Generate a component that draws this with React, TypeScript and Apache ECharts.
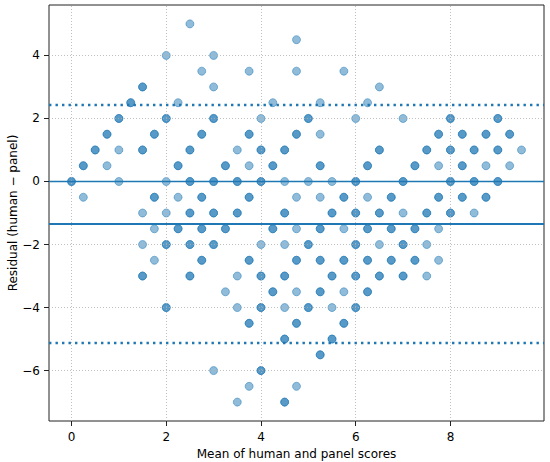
import React, { useEffect, useRef } from "react";
import * as echarts from "echarts";

// Residual levels (human − panel) and the mean scores of the points at each level.
// Values repeated where markers overlap (darker dots in the reference).
const residualLevels = [5, 4.5, 4, 3.5, 3, 2.5, 2, 1.5, 1, 0.5, 0, -0.5, -1, -1.5, -2, -2.5, -3, -3.5, -4, -4.5, -5, -5.5, -6, -6.5, -7];

const meansAtP5_0 = [2.5];
const meansAtP4_5 = [4.75];
const meansAtP4_0 = [2, 3];
const meansAtP3_5 = [2.75, 3.75, 4.75, 5.75];
const meansAtP3_0 = [1.5, 1.5, 3, 6.5];
const meansAtP2_5 = [1.25, 1.25, 2.25, 4.25, 5.25, 6.25];
const meansAtP2_0 = [1, 1, 2, 2, 3, 3, 4, 5, 5, 6, 7, 8, 8, 9, 9];
const meansAtP1_5 = [0.75, 0.75, 1.75, 1.75, 2.75, 2.75, 3.75, 3.75, 4.75, 4.75, 5.25, 7.75, 7.75, 8.25, 8.25, 8.75, 8.75, 9.25, 9.25];
const meansAtP1_0 = [0.5, 0.5, 1, 1.5, 1.5, 2.5, 2.5, 3.5, 4, 4, 4.5, 4.5, 6.5, 6.5, 7.5, 7.5, 8, 8, 8.5, 8.5, 9, 9, 9.5];
const meansAtP0_5 = [0.25, 0.25, 0.75, 2.25, 2.25, 3.25, 3.25, 3.75, 4.25, 4.25, 5.25, 5.25, 6.25, 6.25, 7.25, 7.25, 7.75, 8.25, 8.25, 8.75, 9.25];
const meansAtZero = [0, 0, 1, 2, 2.5, 2.5, 3, 3, 3.5, 3.5, 4, 4, 4.5, 5, 5.5, 6, 6, 7, 7, 8, 8, 8.5, 8.5, 9, 9];
const meansAtM0_5 = [0.25, 1.75, 1.75, 2.25, 2.75, 2.75, 3.75, 3.75, 4.75, 5.25, 5.75, 5.75, 6.25, 6.75, 6.75, 7.75, 7.75, 8.25, 8.25, 8.75, 8.75];
const meansAtM1_0 = [1.5, 2, 2.5, 2.5, 3, 3, 3.5, 3.5, 4.5, 4.5, 5.5, 5.5, 6, 6, 6.5, 6.5, 7, 7.5, 7.5, 8, 8, 8.5];
const meansAtM1_5 = [1.75, 2.25, 2.25, 2.75, 2.75, 3.25, 3.25, 4.25, 4.25, 4.75, 5.25, 5.25, 5.75, 6.25, 6.25, 6.75, 6.75, 7.25, 7.25, 7.75];
const meansAtM2_0 = [1.5, 2, 2, 2.5, 2.5, 3, 3, 4, 4.5, 5, 5, 6, 6, 6.5, 7, 7, 7.5];
const meansAtM2_5 = [1.75, 2.75, 2.75, 3.75, 3.75, 4.75, 4.75, 5.25, 5.25, 5.75, 5.75, 6.25, 6.25, 6.75, 6.75, 7.25, 7.25, 7.75];
const meansAtM3_0 = [1.5, 1.5, 2.5, 2.5, 3.5, 4, 4, 4.5, 4.5, 5.5, 5.5, 6, 6, 6.5, 6.5, 7, 7, 7.5];
const meansAtM3_5 = [3.25, 4.25, 4.25, 4.75, 5.25, 5.25, 5.75, 6.25, 6.25];
const meansAtM4_0 = [2, 2, 3.5, 4, 4, 4.5, 5, 5, 5.5, 6, 6];
const meansAtM4_5 = [3.75, 3.75, 4.75, 4.75, 5.75, 5.75];
const meansAtM5_0 = [4.5, 4.5, 5.5, 5.5];
const meansAtM5_5 = [5.25, 5.25];
const meansAtM6_0 = [3, 4, 4];
const meansAtM6_5 = [3.75, 4.75];
const meansAtM7_0 = [3.5, 4.5, 4.5];

const meansByLevel = [
  meansAtP5_0, meansAtP4_5, meansAtP4_0, meansAtP3_5, meansAtP3_0, meansAtP2_5, meansAtP2_0,
  meansAtP1_5, meansAtP1_0, meansAtP0_5, meansAtZero, meansAtM0_5, meansAtM1_0, meansAtM1_5,
  meansAtM2_0, meansAtM2_5, meansAtM3_0, meansAtM3_5, meansAtM4_0, meansAtM4_5, meansAtM5_0,
  meansAtM5_5, meansAtM6_0, meansAtM6_5, meansAtM7_0,
];

// Bias and limits of agreement
const biasMean = -1.34;
const upperLimit = 2.42;
const lowerLimit = -5.11;

const xTicks = [0, 2, 4, 6, 8];
const yTicks = [-6, -4, -2, 0, 2, 4];

const BLUE = "#1f77b4";
const FONT = "DejaVu Sans";

export default function App() {
  const ref = useRef<HTMLDivElement>(null);

  useEffect(() => {
    if (!ref.current) return;
    document.body.style.margin = "0";
    const chart = echarts.init(ref.current, null, { renderer: "svg" });

    const points: number[][] = [];
    residualLevels.forEach((r, i) => {
      meansByLevel[i].forEach((m) => points.push([m, r]));
    });

    const fmt = (v: number) => (v < 0 ? "\u2212" + Math.abs(v) : String(v));

    chart.setOption({
      animation: false,
      textStyle: { fontFamily: FONT },
      grid: {
        left: 49,
        right: 6,
        top: 5,
        bottom: 41,
        containLabel: false,
        outerBoundsMode: "none",
        show: true,
        borderColor: "#222",
        borderWidth: 1,
        backgroundColor: "transparent",
      },
      xAxis: {
        type: "value",
        min: -0.475,
        max: 9.975,
        name: "Mean of human and panel scores",
        nameLocation: "middle",
        nameGap: 27,
        nameMoveOverlap: false,
        nameTextStyle: { fontSize: 12, color: "#000", fontFamily: FONT },
        axisLine: { show: false, onZero: false },
        axisTick: { show: true, length: 5, customValues: xTicks, lineStyle: { color: "#222", width: 1 } },
        axisLabel: { customValues: xTicks, fontSize: 12, color: "#000", margin: 10, fontFamily: FONT, formatter: fmt },
        splitLine: { show: false },
      },
      yAxis: {
        type: "value",
        min: -7.6,
        max: 5.6,
        name: "Residual (human \u2212 panel)",
        nameLocation: "middle",
        nameRotate: 90,
        nameGap: 30,
        nameMoveOverlap: false,
        nameTextStyle: { fontSize: 12, color: "#000", fontFamily: FONT },
        axisLine: { show: false, onZero: false },
        axisTick: { show: true, length: 5, customValues: yTicks, lineStyle: { color: "#222", width: 1 } },
        axisLabel: { customValues: yTicks, fontSize: 12, color: "#000", margin: 9, fontFamily: FONT, formatter: fmt },
        splitLine: { show: false },
      },
      series: [
        {
          type: "scatter",
          data: [],
          z: 0,
          silent: true,
          markLine: {
            silent: true,
            symbol: "none",
            label: { show: false },
            lineStyle: { color: "#b0b0b0", width: 0.8, type: [1, 2] },
            data: [
              ...xTicks.map((v) => ({ xAxis: v })),
              ...yTicks.filter((v) => v !== 0).map((v) => ({ yAxis: v })),
            ],
          },
        },
        {
          type: "scatter",
          data: [],
          z: 1,
          silent: true,
          markLine: {
            silent: true,
            symbol: "none",
            label: { show: false },
            data: [
              { yAxis: 0, lineStyle: { color: BLUE, width: 1.3, type: "solid", opacity: 1 } },
              { yAxis: biasMean, lineStyle: { color: BLUE, width: 2.2, type: "solid", opacity: 1 } },
              { yAxis: upperLimit, lineStyle: { color: BLUE, width: 2.4, type: [2.4, 4.1], opacity: 1 } },
              { yAxis: lowerLimit, lineStyle: { color: BLUE, width: 2.4, type: [2.4, 4.1], opacity: 1 } },
            ],
          },
        },
        {
          type: "scatter",
          z: 2,
          symbol: "circle",
          symbolSize: 8,
          data: points,
          itemStyle: {
            color: "rgba(31,119,180,0.62)",
            borderColor: "rgba(31,119,180,0.62)",
            borderWidth: 1,
          },
        },
      ],
    });

    return () => chart.dispose();
  }, []);

  return <div ref={ref} style={{ width: 550, height: 462 }} />;
}
